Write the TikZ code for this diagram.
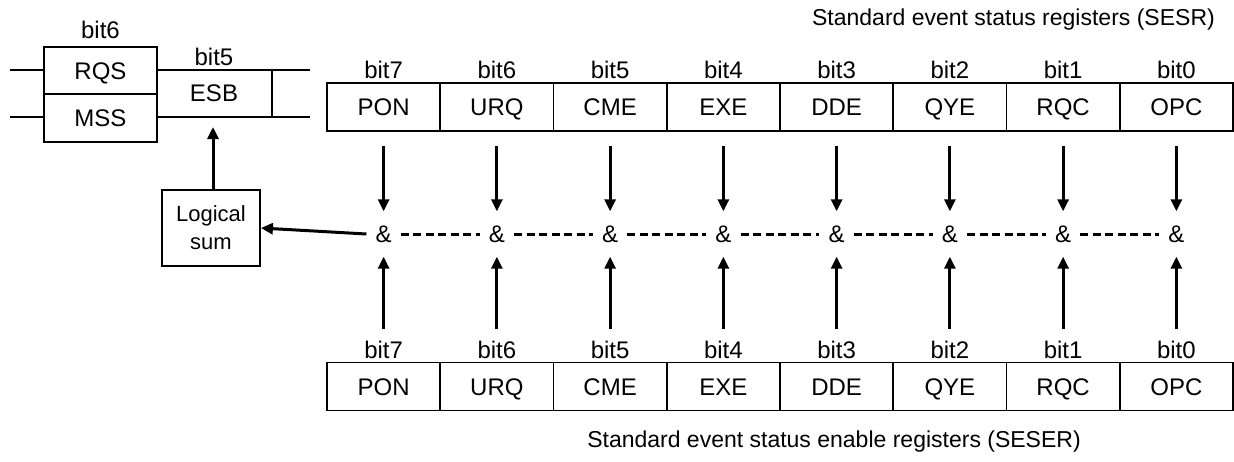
\documentclass[tikz,border=0pt]{standalone}
\usepackage{fontspec}
\setmainfont{Liberation Sans}
\usetikzlibrary{arrows.meta}
\tikzset{
  cell/.style={draw, line width=1.8pt, minimum width=113.25pt, minimum height=48pt, inner sep=0pt, text height=17pt, text depth=0pt, font=\fontsize{24}{28}\selectfont},
  lbl/.style={inner sep=0pt, text height=17pt, text depth=0pt, font=\fontsize{24}{28}\selectfont},
  title/.style={inner sep=0pt, font=\fontsize{23}{27}\selectfont},
  amp/.style={inner sep=0pt, minimum width=34pt, minimum height=45pt, font=\fontsize{24}{28}\selectfont},
  arr/.style={line width=3pt, -{Triangle[width=11pt,length=12pt]}},
  dline/.style={line width=3pt, dash pattern=on 8pt off 4.5pt},
  thin/.style={line width=1.8pt},
}
\begin{document}
\begin{tikzpicture}[x=1pt,y=-1pt]
\useasboundingbox (0,0) rectangle (1234,461);
% titles
\node[title, anchor=east] (t1) at (1215,20) {Standard event status registers (SESR)};
\node[title] (t2) at (834,442) {Standard event status enable registers (SESER)};
% registers
\foreach \n [count=\i from 0] in {PON,URQ,CME,EXE,DDE,QYE,RQC,OPC} {
  \pgfmathsetmacro\cx{327+113.25*(\i+0.5)}
  \pgfmathtruncatemacro\b{7-\i}
  \node[cell] (t\i) at (\cx,107) {\n};
  \node[lbl] (tb\i) at (\cx,70) {bit\b};
  \node[cell] (b\i) at (\cx,386.5) {\n};
  \node[lbl] (bb\i) at (\cx,350) {bit\b};
  \node[amp] (a\i) at (\cx,234) {\&};
  \draw[arr] ([yshift=-14pt]t\i.south) -- (a\i.north);
  \draw[arr] ([yshift=33pt]b\i.north) -- (a\i.south);
}
\foreach \i [evaluate=\i as \j using int(\i+1)] in {0,...,6} {
  \draw[dline] (a\i.east) -- (a\j.west);
}
% logical sum
\node[draw, thin, minimum width=98pt, minimum height=76pt, inner sep=0pt, align=center, font=\fontsize{22}{28}\selectfont] (logic) at (211,228) {Logical\\sum};
\draw[arr] (a0.west) -- (logic.east);
% status byte part
\draw[thin] (44,47) rectangle (157,142);
\draw[thin] (44,94) -- (157,94);
\coordinate (l1) at (10,70);
\coordinate (l2) at (10,117);
\draw[thin] (l1) -- (44,70);
\draw[thin] (l2) -- (44,117);
\draw[thin] (157,70) -- (310,70);
\draw[thin] (157,117) -- (310,117);
\draw[thin] (272,70) -- (272,117);
\node[lbl] (rqs) at (100.5,70.5) {RQS};
\node[lbl] (mss) at (100.5,118) {MSS};
\node[lbl] (esb) at (214,93) {ESB};
\node[lbl] (b5) at (214,57) {bit5};
\node[lbl] (b6) at (100.5,30) {bit6};
\coordinate (esbin) at (213,127);
\draw[arr] (logic.north -| esbin) -- (esbin);
\end{tikzpicture}
\end{document}
